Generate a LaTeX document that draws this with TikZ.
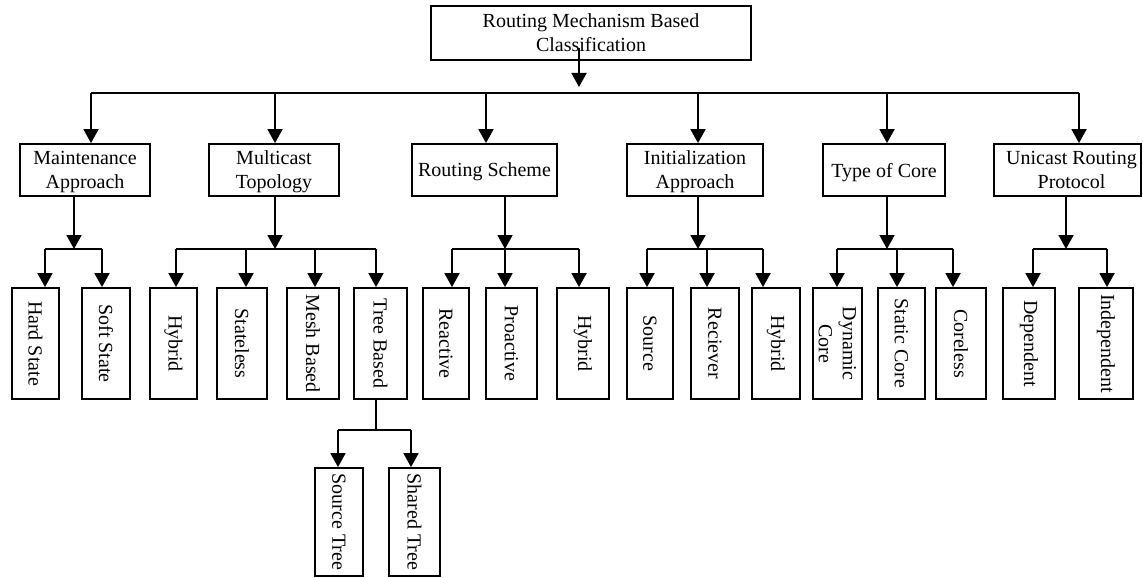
\documentclass[tikz,border=0pt]{standalone}
\usepackage{fontspec}
\setmainfont{Liberation Serif}
\usetikzlibrary{arrows.meta, positioning}

\tikzset{
  box/.style={draw, line width=0.9pt, inner sep=1pt, align=center,
    font=\fontsize{10}{12}\selectfont},
  catbox/.style={box, text depth=-2pt, minimum height=26pt, minimum width=#1},
  leafbox/.style={box, rotate=-90, minimum width=55.5pt, minimum height=#1},
  arr/.style={line width=0.9pt, -{Triangle[length=7pt, width=7.5pt]}},
  bus/.style={line width=0.9pt}
}

\begin{document}
\begin{tikzpicture}[x=0.5pt, y=-0.5pt]
\useasboundingbox (0,0) rectangle (1143,577);

\node[box, text depth=-2pt, minimum width=160pt, minimum height=27pt] (root)
    at (591,33) {Routing Mechanism Based\\Classification};

\node[catbox=65pt] (maint) at (85,170) {Maintenance\\Approach};
\node[catbox=65pt] (multi) at (274,170) {Multicast\\Topology};
\node[catbox=72.5pt] (scheme) at (484.5,170) {Routing Scheme};
\node[catbox=68pt] (init) at (695,170) {Initialization\\Approach};
\node[catbox=61pt] (core) at (884,170) {Type of Core};
\node[catbox=73.5pt] (unicast) at (1067.5,170) {\hspace*{4pt}Unicast Routing\\\hspace*{4pt}Protocol};

\coordinate (top) at (579,93);
\draw[arr, shorten >=3pt] ([yshift=6.5pt]root.south -| top) -- (top);
\draw[bus] (91,93) -- (1079,93);
\foreach \n/\x in {maint/91, multi/275, scheme/486, init/698, core/887, unicast/1079}
  \draw[arr] (\x,93) -- (\x,0 |- \n.north);

\foreach \n/\x in {maint/74, multi/275, scheme/505, init/698, core/887, unicast/1066}
  \draw[arr] (\x,0 |- \n.south) -- (\x,249);
\foreach \a/\b in {45/102, 176/376, 452/579, 647/763, 837/953, 1033/1107}
  \draw[bus] (\a,249) -- (\b,249);

\foreach \n/\c/\w/\t in {hard/35.5/23.5/Hard State, soft/106/24/Soft State,
    hybA/173.5/23.5/Hybrid, stateless/242/25/Stateless, mesh/313/26/Mesh Based,
    tree/380.5/26.5/Tree Based, reactive/446/23/Reactive,
    proactive/511.5/25.5/Proactive, hybB/583/26/Hybrid, source/650/23/Source,
    reciever/715/24/Reciever, hybC/776/24/Hybrid, dynamic/837.5/24.5/{Dynamic\\Core},
    static/901.5/23.5/Static Core, coreless/961/25/Coreless,
    dependent/1029/26/Dependent, independent/1106/27/Independent}
  \node[leafbox=\w pt] (\n) at (\c,343.5) {\t};

\foreach \n/\x in {hard/45, soft/102, hybA/176, stateless/246, mesh/315, tree/376,
    reactive/452, proactive/505, hybB/579, source/647, reciever/707, hybC/763,
    dynamic/837, static/897, coreless/953, dependent/1033, independent/1107}
  \draw[arr] (\x,249) -- (\x,0 |- \n.west);

\node[leafbox=24pt, minimum width=54pt] (srctree) at (339,522) {Source Tree};
\node[leafbox=25.5pt, minimum width=54pt] (shrtree) at (414.5,522) {Shared Tree};
\draw[bus] (376,0 |- tree.east) -- (376,430);
\draw[bus] (338,430) -- (411,430);
\draw[arr] (338,430) -- (338,0 |- srctree.west);
\draw[arr] (411,430) -- (411,0 |- shrtree.west);
\end{tikzpicture}
\end{document}
